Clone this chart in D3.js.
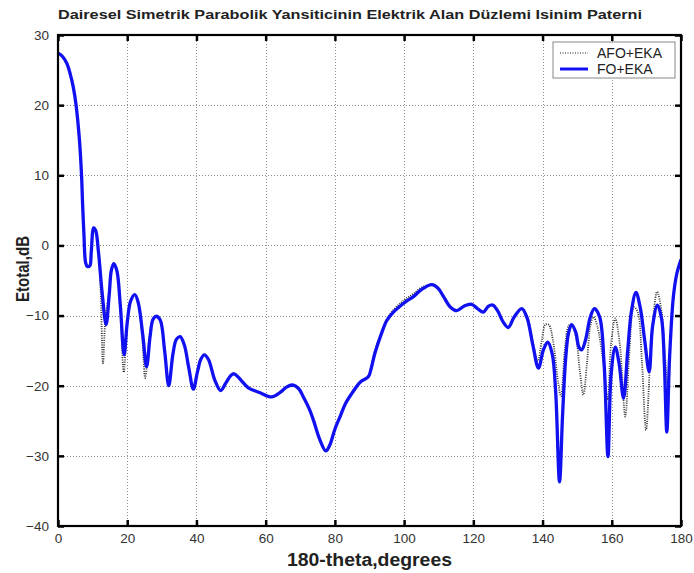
<!DOCTYPE html>
<html lang="tr">
<head>
<meta charset="UTF-8">
<title>Dairesel Simetrik Parabolik Yansiticinin Elektrik Alan Düzlemi Isinim Paterni</title>
<script src="https://d3js.org/d3.v7.min.js"></script>
<style>
  body { margin: 0; background: #fff; }
  text { font-family: "Liberation Sans", Arial, sans-serif; }
  .grid line { stroke: #8c8c8c; stroke-width: 1; stroke-dasharray: 1,2; shape-rendering: crispEdges; }
  .tick-label { font-size: 13.5px; fill: #333; }
</style>
</head>
<body>
<svg id="chart" width="694" height="573"></svg>
<script>
// FO+EKA (solid blue)
const foTheta = [0, 1.2, 2.5, 3.5, 4.4, 5.2, 6.2, 6.8, 7.1, 7.5, 8.0, 8.5, 9.2, 9.6, 10.3, 10.9, 11.7, 12.8, 13.9, 14.8, 15.4, 16.1, 17.0, 18.0, 19.1, 20.0, 21.0, 22.2, 23.2, 24.5, 25.6, 26.6, 27.4, 28.3, 29.5, 30.8, 32.0, 33.2, 34.2, 35.3, 36.5, 37.8, 39.1, 40.3, 41.3, 42.3, 43.5, 45.3, 47.0, 48.5, 50.0, 50.9, 52.5, 55.0, 58.4, 61.7, 64.1, 66.0, 67.8, 69.5, 70.9, 72.5, 73.8, 75.5, 77.4, 78.5, 80.0, 81.5, 83.0, 84.9, 87.3, 89.7, 90.5, 91.6, 93.5, 95.0, 96.9, 99.0, 100.5, 102.7, 105.0, 108.0, 109.8, 111.4, 113.2, 115.2, 117.5, 119.5, 121.2, 122.9, 124.3, 125.6, 127.0, 128.6, 130.1, 131.8, 134.0, 135.5, 137.2, 138.8, 140.3, 141.5, 142.8, 143.8, 144.9, 145.8, 146.7, 147.5, 148.4, 149.6, 150.5, 151.3, 152.4, 153.8, 155.0, 156.5, 157.8, 158.9, 159.8, 161.0, 162.1, 163.4, 164.6, 165.7, 167.0, 168.2, 169.5, 170.8, 171.8, 173.2, 174.4, 175.2, 175.9, 176.7, 177.8, 178.8, 180];
const foDb = [27.4, 27.0, 26.0, 24.5, 22.6, 20.1, 15.0, 10.0, 6.0, 1.5, -2.5, -3.0, -2.9, -1.0, 2.5, 2.1, -1.0, -7.0, -11.3, -7.0, -3.6, -2.6, -3.6, -8.5, -15.6, -11.0, -7.9, -7.0, -8.2, -12.8, -17.3, -13.0, -10.6, -10.1, -10.6, -15.0, -20.0, -15.5, -13.4, -13.0, -14.2, -17.5, -20.5, -18.0, -16.2, -15.6, -16.3, -19.2, -20.7, -19.6, -18.5, -18.3, -19.0, -20.3, -21.0, -21.6, -21.0, -20.2, -19.9, -20.4, -21.6, -23.2, -24.9, -27.5, -29.3, -28.5, -26.2, -24.4, -22.6, -21.1, -19.5, -18.7, -17.5, -15.3, -12.5, -10.7, -9.5, -8.6, -8.0, -7.3, -6.3, -5.6, -6.1, -7.3, -8.7, -9.3, -8.6, -8.4, -9.0, -9.5, -8.7, -8.5, -9.3, -10.9, -11.7, -10.2, -9.0, -10.3, -14.2, -17.5, -14.8, -13.8, -15.5, -21.0, -33.7, -24.0, -16.0, -12.5, -11.3, -12.4, -14.5, -14.9, -13.5, -10.2, -9.0, -10.2, -17.0, -30.1, -18.5, -14.5, -16.8, -21.8, -15.0, -9.3, -6.7, -8.8, -13.5, -18.0, -11.5, -8.5, -10.5, -17.0, -26.6, -16.0, -7.3, -4.0, -2.0];

// AFO+EKA (dotted)
const afoTheta = [0, 1.2, 2.5, 3.5, 4.4, 5.2, 6.2, 6.8, 7.1, 7.5, 8.0, 8.5, 9.2, 9.6, 10.3, 10.9, 11.7, 12.3, 13.0, 13.7, 14.8, 15.4, 16.1, 17.0, 18.0, 19.0, 19.9, 21.0, 22.2, 23.2, 24.3, 25.2, 26.3, 27.4, 28.3, 29.5, 30.8, 32.0, 33.2, 34.2, 35.3, 36.5, 37.8, 39.1, 40.3, 41.3, 42.3, 43.5, 45.3, 47.0, 48.5, 50.0, 50.9, 52.5, 55.0, 58.4, 61.7, 64.1, 66.0, 67.8, 69.5, 70.9, 72.5, 73.8, 75.5, 77.4, 78.5, 80.0, 81.5, 83.0, 84.9, 87.3, 89.7, 90.5, 91.6, 93.5, 95.0, 96.9, 99.0, 100.5, 102.7, 105.0, 108.0, 109.8, 111.4, 113.2, 115.2, 117.5, 119.5, 121.2, 122.9, 124.3, 125.6, 127.0, 128.6, 130.1, 131.8, 134.0, 135.5, 137.3, 138.6, 139.8, 140.8, 141.8, 143.0, 144.5, 145.3, 146.5, 147.5, 148.4, 149.6, 150.8, 151.8, 152.8, 153.8, 154.7, 155.8, 157.5, 158.8, 159.8, 161.0, 162.3, 163.9, 165.0, 166.4, 167.5, 168.7, 169.9, 171.3, 173.1, 174.4, 175.4, 176.2, 177.0, 177.8, 178.8, 180];
const afoDb = [27.4, 27.0, 26.0, 24.5, 22.6, 20.1, 15.0, 10.0, 6.0, 1.5, -2.5, -3.0, -2.9, -1.0, 2.5, 2.1, -1.0, -6.0, -16.8, -10.5, -6.5, -3.6, -2.6, -3.6, -9.0, -18.1, -12.0, -7.9, -7.0, -8.2, -13.0, -18.9, -13.5, -10.6, -10.1, -10.6, -15.0, -20.0, -15.5, -13.4, -13.0, -14.2, -17.5, -20.5, -18.0, -16.2, -15.6, -16.3, -19.2, -20.7, -19.6, -18.5, -18.3, -19.0, -20.3, -21.0, -21.6, -21.0, -20.2, -19.9, -20.4, -21.6, -23.2, -24.9, -27.5, -29.3, -28.5, -26.2, -24.4, -22.6, -21.1, -19.5, -18.7, -17.3, -15.0, -12.3, -10.5, -9.2, -8.2, -7.6, -6.9, -6.0, -5.6, -6.1, -7.3, -8.7, -9.3, -8.6, -8.4, -9.0, -9.5, -8.7, -8.5, -9.3, -10.9, -11.7, -10.2, -9.0, -10.0, -14.0, -16.5, -13.5, -11.3, -11.3, -13.5, -19.5, -21.5, -14.5, -11.5, -11.3, -13.0, -18.0, -21.3, -17.0, -11.5, -10.2, -11.5, -16.5, -22.0, -14.0, -10.4, -14.0, -24.4, -16.0, -8.8, -9.5, -16.5, -26.3, -15.0, -6.6, -9.5, -16.0, -20.0, -13.0, -7.3, -4.0, -2.0];

const xTicks = [0, 20, 40, 60, 80, 100, 120, 140, 160, 180];
const yTicks = [-40, -30, -20, -10, 0, 10, 20, 30];
const legendItems = ["AFO+EKA", "FO+EKA"];

const svg = d3.select("#chart");
const margin = { left: 58, right: 13, top: 35, bottom: 47 };
const W = 694, H = 573;
const x = d3.scaleLinear().domain([0, 180]).range([margin.left, W - margin.right]);
const y = d3.scaleLinear().domain([-40, 30]).range([H - margin.bottom, margin.top]);
const px = v => Math.round(v) + 0.5;

svg.append("rect").attr("width", W).attr("height", H).attr("fill", "#fff");

// grid
const grid = svg.append("g").attr("class", "grid");
grid.selectAll("line.gx").data(xTicks.slice(1, -1)).join("line").attr("class", "gx")
  .attr("x1", d => px(x(d))).attr("x2", d => px(x(d)))
  .attr("y1", y(30)).attr("y2", y(-40));
grid.selectAll("line.gy").data(yTicks.slice(1, -1)).join("line").attr("class", "gy")
  .attr("x1", x(0)).attr("x2", x(180))
  .attr("y1", d => px(y(d))).attr("y2", d => px(y(d)));

// clip for data
svg.append("clipPath").attr("id", "clip").append("rect")
  .attr("x", x(0)).attr("y", y(30)).attr("width", x(180) - x(0)).attr("height", y(-40) - y(30));

const line = d3.line().curve(d3.curveCatmullRom.alpha(0.5));
const afoPts = afoTheta.map((t, i) => [x(t), y(afoDb[i])]);
const foPts = foTheta.map((t, i) => [x(t), y(foDb[i])]);

const plot = svg.append("g").attr("clip-path", "url(#clip)");
plot.append("path").attr("d", line(afoPts))
  .attr("fill", "none").attr("stroke", "#333").attr("stroke-width", 1.8).attr("stroke-dasharray", "1,1.3");
plot.append("path").attr("d", line(foPts))
  .attr("fill", "none").attr("stroke", "#1010f0").attr("stroke-width", 3.3).attr("stroke-linejoin", "round");

// axes (inner ticks on all sides)
const axBottom = svg.append("g").attr("transform", `translate(0,${y(-40)})`)
  .call(d3.axisBottom(x).tickValues(xTicks).tickSizeInner(-6).tickSizeOuter(0).tickPadding(7));
const axLeft = svg.append("g").attr("transform", `translate(${x(0)},0)`)
  .call(d3.axisLeft(y).tickValues(yTicks).tickSizeInner(-6).tickSizeOuter(0).tickPadding(9));
const axTop = svg.append("g").attr("transform", `translate(0,${y(30)})`)
  .call(d3.axisTop(x).tickValues(xTicks).tickSizeInner(-6).tickSizeOuter(0).tickFormat(""));
const axRight = svg.append("g").attr("transform", `translate(${x(180)},0)`)
  .call(d3.axisRight(y).tickValues(yTicks).tickSizeInner(-6).tickSizeOuter(0).tickFormat(""));
[axBottom, axLeft, axTop, axRight].forEach(a => {
  a.select(".domain").remove();
  a.selectAll(".tick line").attr("stroke", "#000").attr("stroke-width", 2.5);
});
[axBottom, axLeft].forEach(a => {
  a.attr("font-size", null).attr("font-family", null);
  a.selectAll(".tick text").attr("class", "tick-label");
});

svg.append("rect")
  .attr("x", x(0)).attr("y", y(30)).attr("width", x(180) - x(0)).attr("height", y(-40) - y(30))
  .attr("fill", "none").attr("stroke", "#000").attr("stroke-width", 2.2);

// title and labels
svg.append("text").attr("x", 350).attr("y", 19).attr("text-anchor", "middle")
  .attr("font-size", 12.5).attr("font-weight", "bold").attr("fill", "#222")
  .attr("textLength", 584).attr("lengthAdjust", "spacingAndGlyphs")
  .text("Dairesel Simetrik Parabolik Yansiticinin Elektrik Alan  Düzlemi Isinim Paterni");

svg.append("text").attr("x", 369.5).attr("y", 566).attr("text-anchor", "middle")
  .attr("font-size", 18).attr("font-weight", "bold").attr("fill", "#222")
  .attr("textLength", 165).attr("lengthAdjust", "spacingAndGlyphs")
  .text("180-theta,degrees");

svg.append("text").attr("transform", "translate(29,269) rotate(-90)").attr("text-anchor", "middle")
  .attr("font-size", 18).attr("font-weight", "bold").attr("fill", "#222")
  .attr("textLength", 66).attr("lengthAdjust", "spacingAndGlyphs")
  .text("Etotal,dB");

// legend
const lg = svg.append("g").attr("transform", "translate(553,42)");
lg.append("rect").attr("width", 122).attr("height", 36)
  .attr("fill", "#fff").attr("stroke", "#888").attr("stroke-width", 1);
legendItems.forEach((name, i) => {
  const ly = 11 + i * 16;
  lg.append("line").attr("x1", 7).attr("x2", 35).attr("y1", ly).attr("y2", ly)
    .attr("stroke", i === 0 ? "#666" : "#1010f0")
    .attr("stroke-width", i === 0 ? 1.4 : 3)
    .attr("stroke-dasharray", i === 0 ? "1,1.5" : null);
  lg.append("text").attr("x", 44).attr("y", ly + 5).attr("font-size", 14).attr("fill", "#222").text(name);
});
</script>
</body>
</html>
